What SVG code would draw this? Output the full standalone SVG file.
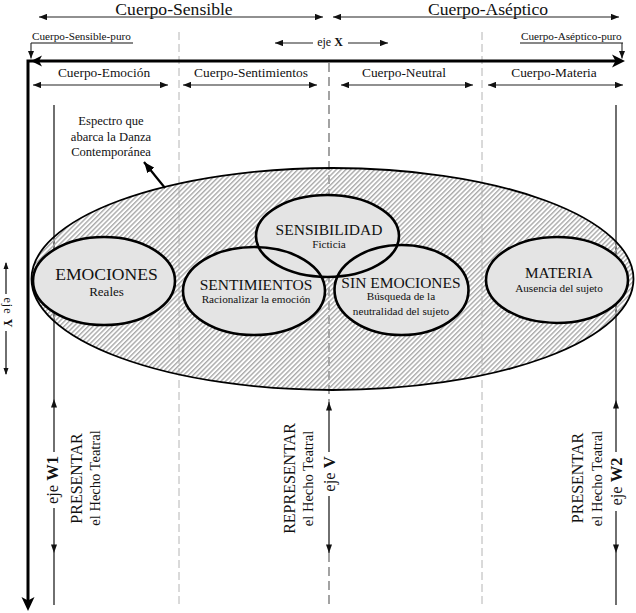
<svg xmlns="http://www.w3.org/2000/svg" width="636" height="613" viewBox="0 0 636 613">
<defs>
<style>
text{font-family:"Liberation Serif","Times New Roman",serif;fill:#111}
.t18{font-size:17.6px;text-anchor:middle}
.sec{font-size:13.4px;text-anchor:middle}
.puro{font-size:11.2px}
.ln{stroke:#111;stroke-width:1.2;fill:none}
.dbl{stroke:#222;stroke-width:1.2;fill:none;marker-start:url(#ah);marker-end:url(#ah)}
.one{stroke:#222;stroke-width:1.1;fill:none;marker-end:url(#ah)}
.dash{stroke:#b4b4b4;stroke-width:1;stroke-dasharray:8 4;fill:none}
.cdash{stroke:#666;stroke-width:1.2;stroke-dasharray:9 5;fill:none}
.bg{fill:#e4e4e4;stroke:none}
.ring{fill:none;stroke:#000;stroke-width:2.6}
.big{font-size:15.5px;text-anchor:middle}
.sub{font-size:11.2px;text-anchor:middle}
.r16{font-size:16px;text-anchor:middle}
.r14{font-size:14.5px;text-anchor:middle}
.eje{font-size:16.5px;text-anchor:middle}
.thick{stroke:#000;stroke-width:3;fill:none}
</style>
<marker id="ah" viewBox="0 0 10 8" refX="10" refY="4" markerWidth="8" markerHeight="6.4" markerUnits="userSpaceOnUse" orient="auto-start-reverse"><path d="M0,0 L10,4 L0,8 z" fill="#111"/></marker>
<marker id="ahb" viewBox="0 0 10 8" refX="10" refY="4" markerWidth="11" markerHeight="9" markerUnits="userSpaceOnUse" orient="auto"><path d="M0,0 L10,4 L0,8 z" fill="#000"/></marker>
<pattern id="hatch" width="3.4" height="10" patternUnits="userSpaceOnUse" patternTransform="rotate(45)"><rect width="1.4" height="10" fill="#a9a9a9"/></pattern>
<path id="up" d="M0,0 L-3,8.5 L3,8.5 z" fill="#111"/>
<path id="dn" d="M0,0 L-3,-8.5 L3,-8.5 z" fill="#111"/>
<path id="upS" d="M0,0 L-2.5,7 L2.5,7 z" fill="#111"/>
<path id="dnS" d="M0,0 L-2.5,-7 L2.5,-7 z" fill="#111"/>
</defs>

<g id="headers">
<text class="t18" x="174" y="14.6">Cuerpo-Sensible</text>
<text class="t18" x="488" y="14.6">Cuerpo-Aséptico</text>
<text class="puro" x="32" y="40">Cuerpo-Sensible-puro</text>
<text class="puro" x="521" y="40">Cuerpo-Aséptico-puro</text>
<text x="330" y="45.5" font-size="12" text-anchor="middle">eje <tspan font-weight="bold">X</tspan></text>
<text class="sec" x="104" y="77">Cuerpo-Emoción</text>
<text class="sec" x="251" y="77">Cuerpo-Sentimientos</text>
<text class="sec" x="404" y="77">Cuerpo-Neutral</text>
<text class="sec" x="554" y="77">Cuerpo-Materia</text>
</g>

<g id="guides">
<path class="dash" d="M179,32 V605"/>
<path class="dash" d="M482,32 V605"/>
<path class="cdash" d="M329,63 V402"/>
<path class="cdash" d="M329,553 V605"/>
<path class="ln" d="M54,105 V452 M54,508 V605"/>
<path class="ln" d="M616,105 V452 M616,511 V605"/>
</g>

<g id="espectro">
<ellipse cx="332.5" cy="279" rx="301" ry="111" fill="url(#hatch)" stroke="#000" stroke-width="1.8"/>
<text font-size="12.6" text-anchor="middle"><tspan x="111" y="125">Espectro que</tspan><tspan x="111" y="140.8">abarca la Danza</tspan><tspan x="111" y="156">Contemporánea</tspan></text>
</g>

<g id="node-fills">
<ellipse class="bg" cx="104" cy="281" rx="71" ry="44"/>
<ellipse class="bg" cx="254" cy="291" rx="71" ry="44"/>
<ellipse class="bg" cx="327.5" cy="236" rx="71.5" ry="41"/>
<ellipse class="bg" cx="401.5" cy="290" rx="67" ry="45"/>
<ellipse class="bg" cx="557" cy="280" rx="71" ry="43"/>
</g>

<g id="emociones">
<ellipse class="ring" cx="104" cy="281" rx="71" ry="44"/>
<text x="106.5" y="280" font-size="17.6" text-anchor="middle">EMOCIONES</text>
<text x="106.5" y="296" font-size="13" text-anchor="middle">Reales</text>
</g>
<g id="sentimientos">
<ellipse class="ring" cx="254" cy="291" rx="71" ry="44"/>
<text class="big" x="256" y="290">SENTIMIENTOS</text>
<text class="sub" x="256" y="303" font-size="10.9">Racionalizar la emoción</text>
</g>
<g id="sensibilidad">
<ellipse class="ring" cx="327.5" cy="236" rx="71.5" ry="41"/>
<text class="big" x="329" y="235">SENSIBILIDAD</text>
<text class="sub" x="329" y="248">Ficticia</text>
</g>
<g id="sin-emociones">
<ellipse class="ring" cx="401.5" cy="290" rx="67" ry="45"/>
<text class="big" x="401" y="288">SIN EMOCIONES</text>
<text class="sub" x="401" y="300">Búsqueda de la</text>
<text class="sub" x="401" y="314.5">neutralidad del sujeto</text>
</g>
<g id="materia">
<ellipse class="ring" cx="557" cy="280" rx="71" ry="43"/>
<text x="559" y="278" font-size="15.3" text-anchor="middle">MATERIA</text>
<text class="sub" x="559" y="292">Ausencia del sujeto</text>
</g>

<g id="connectors">
<path class="dbl" d="M39,17 H323" stroke="#000"/>
<path class="dbl" d="M333,17 H619" stroke="#000"/>
<path class="one" d="M313,43 H275"/>
<path class="one" d="M348,43 H388"/>
<path class="dbl" d="M33,85 H168"/>
<path class="dbl" d="M183,85 H317"/>
<path class="dbl" d="M341,85 H473"/>
<path class="dbl" d="M488,85 H623"/>
<path class="ln" stroke-width="1" d="M31,43 H133"/>
<path class="one" d="M31,43 V58.5"/>
<path class="ln" stroke-width="1" d="M520,43 H623"/>
<path class="one" d="M622,43 V58.5"/>
<path class="thick" d="M28,603 V61 H617"/>
<polygon points="625,61 612,54.5 615.5,61 612,67.5" fill="#000"/>
<polygon points="31,61 42,55.5 39,61 42,66.5" fill="#000"/>
<polygon points="28,611 21.5,597 28,600.5 34.5,597" fill="#000"/>
<path d="M165,188 L144,162" stroke="#000" stroke-width="2.2" fill="none" marker-end="url(#ahb)"/>
<path class="ln" d="M329,402 V452 M329,496 V553"/>
<use href="#up" x="54" y="399"/>
<use href="#dn" x="54" y="553"/>
<use href="#up" x="616" y="400"/>
<use href="#dn" x="616" y="553"/>
<use href="#up" x="329" y="402"/>
<use href="#dn" x="329" y="553"/>
<path class="ln" stroke-width="1" d="M6,263 V294 M6,331 V374"/>
<use href="#upS" x="6" y="262"/>
<use href="#dnS" x="6" y="375"/>
</g>

<g id="axis-labels">
<text font-size="12" letter-spacing="1.1" text-anchor="middle" transform="translate(3.5,313) rotate(90)">eje <tspan font-weight="bold">Y</tspan></text>
<text class="r16" transform="translate(82,478.5) rotate(-90)">PRESENTAR</text>
<text class="r14" transform="translate(100,478) rotate(-90)">el Hecho Teatral</text>
<text class="eje" transform="translate(58,480) rotate(-90)">eje <tspan font-weight="bold">W1</tspan></text>
<text class="r16" transform="translate(295,478.5) rotate(-90)">REPRESENTAR</text>
<text class="r14" transform="translate(313,478.5) rotate(-90)">el Hecho Teatral</text>
<text class="eje" transform="translate(334.5,474) rotate(-90)">eje <tspan font-weight="bold">V</tspan></text>
<text class="r16" transform="translate(583,478) rotate(-90)">PRESENTAR</text>
<text class="r14" transform="translate(602,478.5) rotate(-90)">el Hecho Teatral</text>
<text class="eje" transform="translate(622,481.5) rotate(-90)">eje <tspan font-weight="bold">W2</tspan></text>
</g>
</svg>
